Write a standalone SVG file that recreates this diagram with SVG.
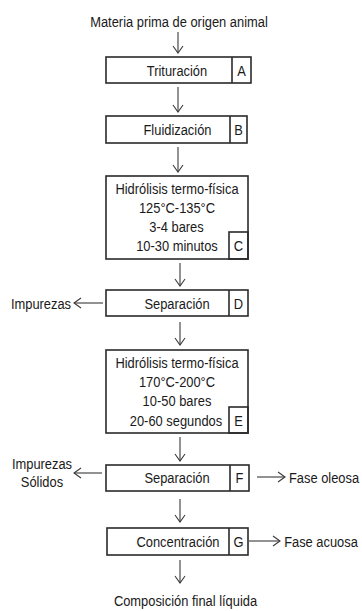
<svg xmlns="http://www.w3.org/2000/svg" width="362" height="611" viewBox="0 0 362 611">
<style>
text{font-family:"Liberation Sans",Arial,sans-serif;font-size:15px;fill:#1a1a1a;text-anchor:middle;transform-box:fill-box;transform-origin:center;transform:scaleX(0.86)}
.box{fill:#fff;stroke:#2a2a2a;stroke-width:1.6}
.cell{fill:none;stroke:#2a2a2a;stroke-width:1.6}
.con line{stroke:#3a3a3a;stroke-width:1.1;fill:none}
</style>
<defs>
<marker id="ah" markerUnits="userSpaceOnUse" markerWidth="12" markerHeight="12" refX="10" refY="6" orient="auto" viewBox="0 0 12 12">
<path d="M3,1 L10,6 L3,11" fill="none" stroke="#3a3a3a" stroke-width="1.1"/>
</marker>
</defs>
<rect width="362" height="611" fill="#fff"/>
<text x="179" y="27">Materia prima de origen animal</text>
<g id="A"><rect class="box" x="106" y="57" width="145" height="26"/><line class="cell" x1="232" y1="57" x2="232" y2="83"/><text x="177" y="76">Trituración</text><text x="241.5" y="76">A</text></g>
<g id="B"><rect class="box" x="106" y="116" width="141" height="27"/><line class="cell" x1="230" y1="116" x2="230" y2="143"/><text x="177.5" y="135">Fluidización</text><text x="238.5" y="135">B</text></g>
<g id="C"><rect class="box" x="106" y="176" width="142" height="83"/><rect class="cell" x="229" y="232" width="19" height="27"/><text x="177" y="194">Hidrólisis termo-física</text><text x="177" y="213">125°C-135°C</text><text x="176.5" y="232">3-4 bares</text><text x="177" y="251">10-30 minutos</text><text x="238.5" y="251">C</text></g>
<g id="D"><rect class="box" x="106" y="290" width="142" height="26"/><line class="cell" x1="229" y1="290" x2="229" y2="316"/><text x="177" y="309">Separación</text><text x="238.5" y="309">D</text></g>
<text x="41" y="309">Impurezas</text>
<g id="E"><rect class="box" x="106" y="350" width="142" height="83"/><rect class="cell" x="229" y="407" width="19" height="26"/><text x="177" y="368">Hidrólisis termo-física</text><text x="177" y="387">170°C-200°C</text><text x="177" y="406">10-50 bares</text><text x="176" y="426">20-60 segundos</text><text x="238.5" y="426">E</text></g>
<g id="F"><rect class="box" x="106" y="465" width="143" height="26"/><line class="cell" x1="230" y1="465" x2="230" y2="491"/><text x="177" y="483">Separación</text><text x="239.5" y="483">F</text></g>
<text x="42" y="469">Impurezas</text>
<text x="42" y="487">Sólidos</text>
<text x="324" y="483">Fase oleosa</text>
<g id="G"><rect class="box" x="107" y="528" width="141" height="27"/><line class="cell" x1="229" y1="528" x2="229" y2="555"/><text x="178" y="547">Concentración</text><text x="238.5" y="547">G</text></g>
<text x="321" y="547">Fase acuosa</text>
<text x="185.5" y="606">Composición final líquida</text>
<g id="connectors" class="con">
<line x1="178" y1="32" x2="178" y2="53" marker-end="url(#ah)"/>
<line x1="178" y1="87" x2="178" y2="112" marker-end="url(#ah)"/>
<line x1="178" y1="147" x2="178" y2="172" marker-end="url(#ah)"/>
<line x1="180" y1="263" x2="180" y2="286" marker-end="url(#ah)"/>
<line x1="103" y1="303" x2="74" y2="303" marker-end="url(#ah)"/>
<line x1="180" y1="322" x2="180" y2="345" marker-end="url(#ah)"/>
<line x1="180" y1="437" x2="180" y2="461" marker-end="url(#ah)"/>
<line x1="102" y1="473" x2="74" y2="473" marker-end="url(#ah)"/>
<line x1="257" y1="477" x2="285" y2="477" marker-end="url(#ah)"/>
<line x1="180" y1="499" x2="180" y2="522" marker-end="url(#ah)"/>
<line x1="249" y1="541" x2="280" y2="541" marker-end="url(#ah)"/>
<line x1="180" y1="560" x2="180" y2="583" marker-end="url(#ah)"/>
</g>
</svg>
